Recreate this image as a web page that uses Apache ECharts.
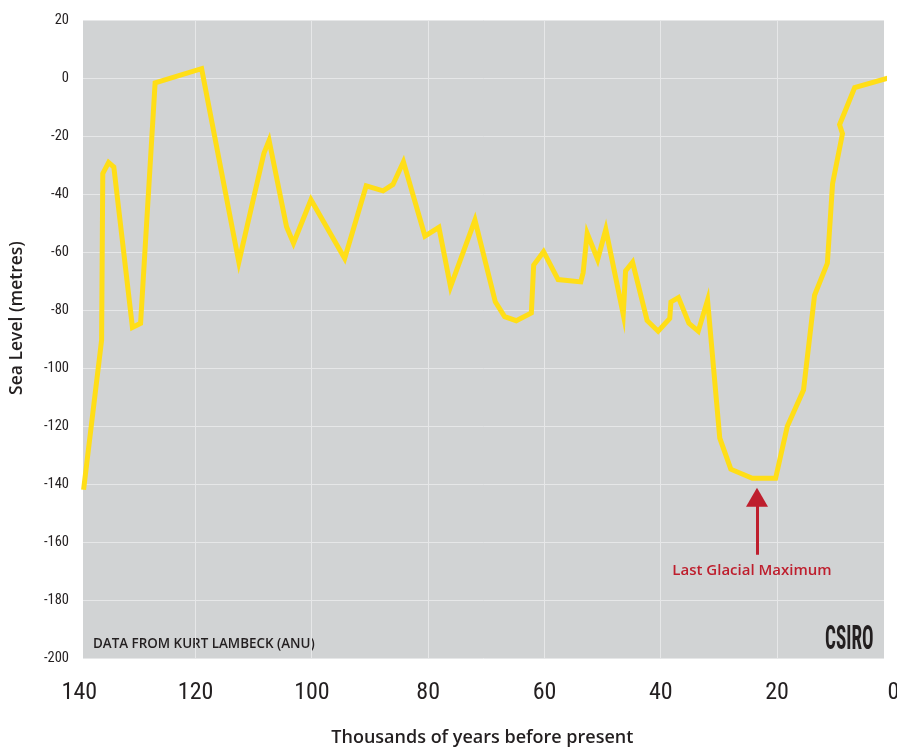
<!DOCTYPE html>
<html>
<head>
<meta charset="utf-8">
<script src="https://cdn.jsdelivr.net/npm/echarts@6/dist/echarts.min.js"></script>
<style>html,body{margin:0;padding:0;background:#fff}#c{width:897px;height:747px}</style>
</head>
<body>
<div id="c"></div>
<script>
// Thousands of years before present
const years = [139.2, 136.1, 135.9, 134.9, 134.0, 130.8, 129.4, 126.9, 118.9, 112.5, 108.2, 107.3, 104.3, 103.1, 100.1, 94.3, 90.6, 87.7, 86.0, 84.2, 80.5, 78.1, 76.1, 71.9, 68.4, 66.8, 64.8, 62.2, 61.8, 60.1, 57.6, 53.7, 53.3, 52.6, 50.8, 49.4, 46.4, 46.0, 44.8, 42.3, 40.4, 38.4, 38.2, 36.9, 35.1, 33.5, 31.9, 29.8, 27.9, 24.2, 20.2, 18.2, 15.4, 13.5, 11.3, 10.4, 8.7, 9.2, 6.6, 0];
// Sea level (metres)
const level = [-142, -90.4, -33, -29.1, -30.7, -86, -84.6, -1.7, 3.2, -63.5, -26, -21.5, -51.3, -57, -42, -62.2, -37.2, -38.9, -36.7, -28.9, -54.5, -51.5, -72, -49, -77.2, -82.3, -83.7, -81, -64.5, -59.9, -69.5, -70.3, -67.2, -53.6, -62.6, -52.2, -81.5, -66.5, -63.5, -83.6, -87.3, -82.9, -77.2, -75.7, -84.6, -87.3, -76.6, -124.2, -134.9, -138, -138, -120.2, -107.6, -74.9, -63.9, -36.4, -19.2, -16.1, -3.3, 0.5];
const xTicks = [0, 20, 40, 60, 80, 100, 120, 140];
const xGridValues = [20, 40, 60, 80, 100, 120];
const yTicks = [-200, -180, -160, -140, -120, -100, -80, -60, -40, -20, 0, 20];
const plotRange = [1.56, 139.3];   // visible part of the time axis
const labelRange = [0, 140];
const annotation = { year: 23.4, from: -164.4, to: -144.6, text: 'Last Glacial Maximum' };

const narrow = '"Liberation Sans Narrow", "Roboto Condensed", Roboto, sans-serif';
const sans = '"Open Sans", "Noto Sans", sans-serif';

const chart = echarts.init(document.getElementById('c'), null, { renderer: 'canvas' });
chart.setOption({
  animation: false,
  backgroundColor: '#ffffff',
  grid: [
    { left: 83, right: 13, top: 20, bottom: 89, show: true, backgroundColor: '#d1d3d4', borderWidth: 0, containLabel: false, outerBoundsMode: 'none' },
    { left: 79.3, right: 3.6, top: 20, bottom: 89, show: false, containLabel: false, outerBoundsMode: 'none' }
  ],
  xAxis: [
    {
      gridIndex: 0, type: 'value', inverse: true, min: plotRange[0], max: plotRange[1],
      axisLine: { show: false },
      axisTick: { show: false, customValues: xGridValues },
      axisLabel: { show: false },
      splitLine: { show: true, lineStyle: { color: '#e6e7e8', width: 1 } }
    },
    {
      gridIndex: 1, type: 'value', inverse: true, min: labelRange[0], max: labelRange[1], interval: 20,
      axisLine: { show: false }, axisTick: { show: false }, splitLine: { show: false },
      axisLabel: {
        show: true, margin: 23, color: '#231f20', fontFamily: narrow, fontSize: 24,
        customValues: xTicks
      },
      name: 'Thousands of years before present',
      nameLocation: 'middle', nameGap: 71,
      nameTextStyle: { color: '#231f20', fontFamily: sans, fontSize: 18, fontWeight: 600, padding: [0, 8, 0, 0] }
    }
  ],
  yAxis: [
    {
      gridIndex: 0, type: 'value', min: -200, max: 20, interval: 20,
      axisLine: { show: false }, axisTick: { show: false },
      axisLabel: { color: '#231f20', fontFamily: narrow, fontSize: 14.5, margin: 14, customValues: yTicks },
      splitLine: { show: true, lineStyle: { color: '#e6e7e8', width: 1 } },
      name: 'Sea Level (metres)', nameLocation: 'middle', nameGap: 57, nameRotate: 90,
      nameTextStyle: { color: '#231f20', fontFamily: sans, fontSize: 17.5, fontWeight: 600, padding: [0, 0, 0, 42] }
    },
    { gridIndex: 1, type: 'value', min: -200, max: 20, show: false }
  ],
  graphic: [
    { type: 'text', x: 93, y: 638, style: { text: 'DATA FROM KURT LAMBECK (ANU)', fill: '#231f20', font: '600 13.4px ' + sans } },
    { type: 'text', x: 825, y: 624, scaleX: 0.58, scaleY: 1, style: { text: 'CSIRO', fill: '#231f20', font: 'bold 33px ' + narrow } }
  ],
  series: [
    {
      type: 'line', xAxisIndex: 0, yAxisIndex: 0,
      data: years.map((y, i) => [y, level[i]]),
      showSymbol: false, clip: true,
      lineStyle: { color: '#ffde17', width: 5, join: 'miter' },
      markLine: {
        silent: true, symbol: ['none', 'triangle'], symbolSize: [22, 19],
        lineStyle: { color: '#be1e2d', width: 3, type: 'solid' },
        label: {
          show: true, position: 'start', distance: 8, formatter: annotation.text,
          color: '#be1e2d', fontFamily: sans, fontSize: 15, fontWeight: 600, padding: [0, 10, 0, 0]
        },
        data: [[{ coord: [annotation.year, annotation.from] }, { coord: [annotation.year, annotation.to] }]]
      }
    }
  ]
});
</script>
</body>
</html>
